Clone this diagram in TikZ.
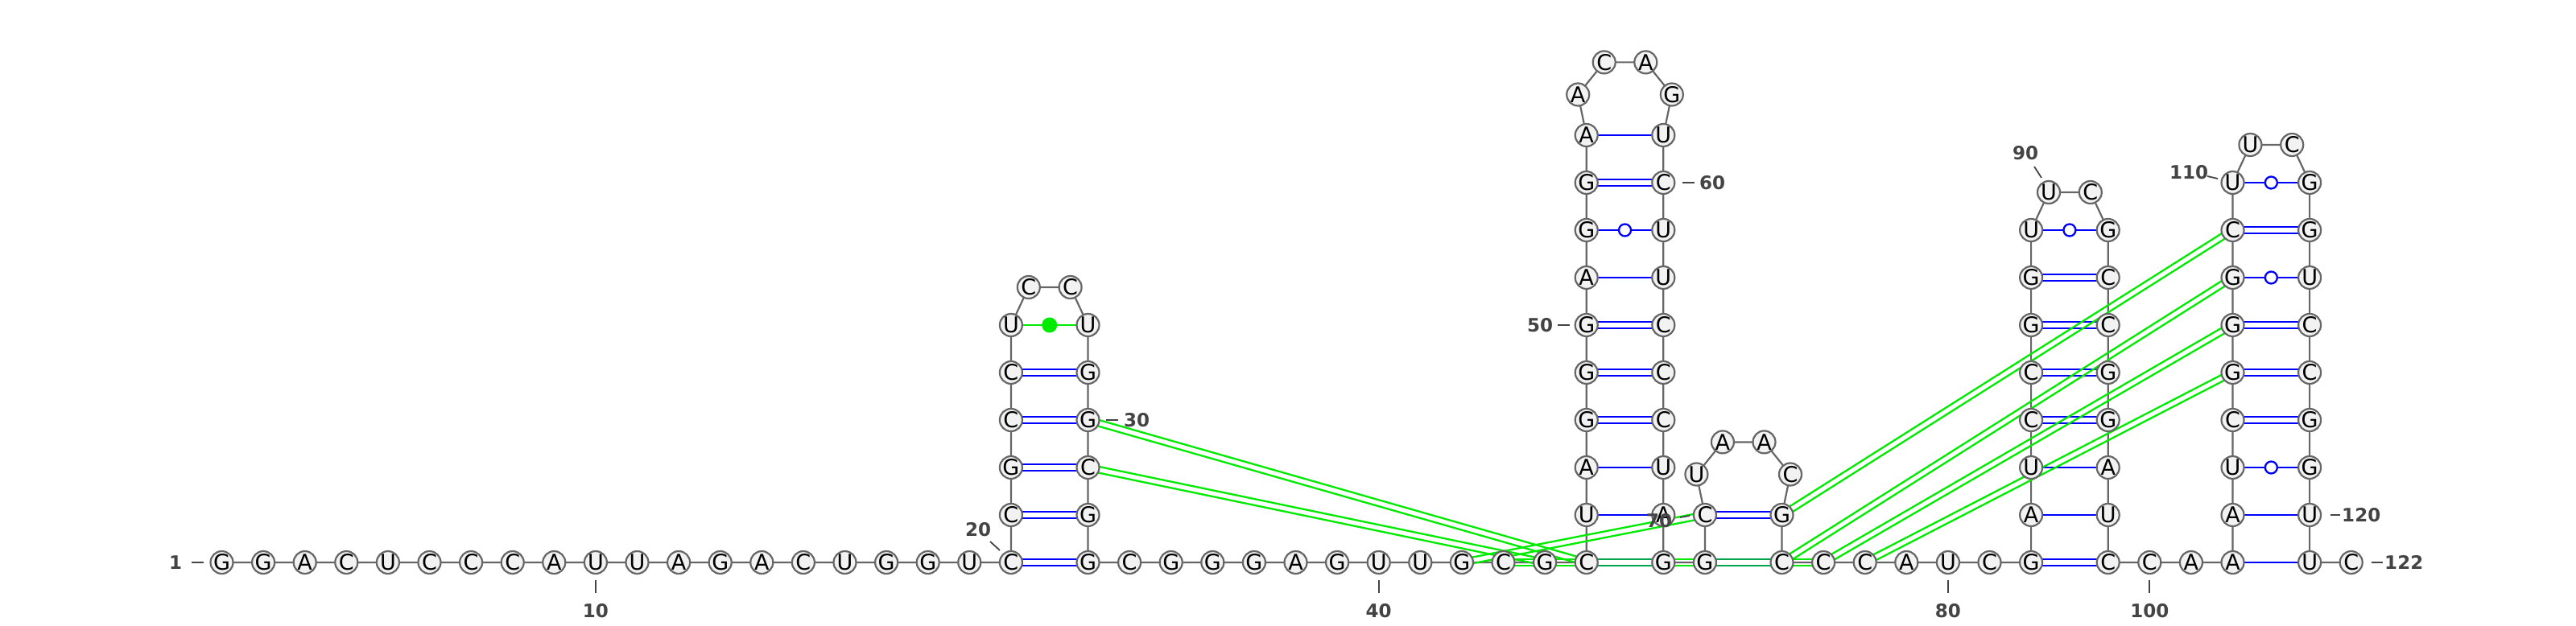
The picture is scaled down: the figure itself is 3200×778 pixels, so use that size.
\documentclass[tikz,border=0pt]{standalone}
\usepackage{fontspec}
\setmainfont{DejaVu Sans}
\usetikzlibrary{calc,backgrounds}
\definecolor{bbgray}{RGB}{102,102,102}
\definecolor{nfill}{RGB}{242,242,242}
\definecolor{labgray}{RGB}{68,68,68}
\definecolor{pkgreen}{RGB}{0,235,0}
\definecolor{bpblue}{RGB}{0,0,255}
\tikzset{
 nuc/.style={circle, draw=bbgray, fill=nfill, line width=2.2pt, minimum size=28pt, inner sep=0pt, font=\fontsize{27}{30}\selectfont},
 backbone/.style={draw=bbgray, line width=2.2pt},
 bp/.style={draw=bpblue, line width=2.3pt},
 bpfaint/.style={draw=bpblue, line width=2.3pt, draw opacity=0.3},
 pk/.style={draw=pkgreen, line width=2.3pt},
 lab/.style={text=labgray, font=\bfseries\fontsize{23}{26}\selectfont, inner sep=0pt},
 ticksty/.style={draw=labgray, line width=1.8pt},
}
\newcommand\ntd[4]{\node[nuc] (n#1) at (#2,#3) {\makebox[0pt]{\raisebox{-0.3645em}[0pt][0pt]{#4}}};}
\newcommand\twoline[3]{%
  \draw[#1] ($(n#2.center)!3.8pt!90:(n#3.center)$) -- ($(n#3.center)!3.8pt!-90:(n#2.center)$);
  \draw[#1] ($(n#2.center)!3.8pt!-90:(n#3.center)$) -- ($(n#3.center)!3.8pt!90:(n#2.center)$);}
\newcommand\oneline[2]{\draw[bp] (n#1.center) -- (n#2.center);}
\newcommand\wobline[2]{\draw[bp] (n#1.center) -- (n#2.center);
  \draw[bp, fill=white] ($(n#1.center)!0.5!(n#2.center)$) circle[radius=7.5pt];}
\begin{document}
\begin{tikzpicture}[x=1pt,y=-1pt]
\useasboundingbox (0,0) rectangle (3200,778);
% baseline 1-20
\ntd{1}{275.5}{699}{G}
\ntd{2}{327.1}{699}{G}
\ntd{3}{378.7}{699}{A}
\ntd{4}{430.3}{699}{C}
\ntd{5}{481.9}{699}{U}
\ntd{6}{533.5}{699}{C}
\ntd{7}{585.1}{699}{C}
\ntd{8}{636.7}{699}{C}
\ntd{9}{688.3}{699}{A}
\ntd{10}{739.9}{699}{U}
\ntd{11}{791.5}{699}{U}
\ntd{12}{843.1}{699}{A}
\ntd{13}{894.7}{699}{G}
\ntd{14}{946.3}{699}{A}
\ntd{15}{997.9}{699}{C}
\ntd{16}{1049.5}{699}{U}
\ntd{17}{1101.1}{699}{G}
\ntd{18}{1152.7}{699}{G}
\ntd{19}{1204.3}{699}{U}
\ntd{20}{1255.9}{699}{C}
% hairpin 1
\ntd{21}{1255.9}{640}{C}
\ntd{22}{1255.9}{581}{G}
\ntd{23}{1255.9}{522}{C}
\ntd{24}{1255.9}{463}{C}
\ntd{25}{1255.9}{404}{U}
\ntd{26}{1277.8}{357}{C}
\ntd{27}{1329.6}{357}{C}
\ntd{28}{1351.5}{404}{U}
\ntd{29}{1351.5}{463}{G}
\ntd{30}{1351.5}{522}{G}
\ntd{31}{1351.5}{581}{C}
\ntd{32}{1351.5}{640}{G}
\ntd{33}{1351.5}{699}{G}
% baseline 34-45
\ntd{34}{1403.1}{699}{C}
\ntd{35}{1454.7}{699}{G}
\ntd{36}{1506.3}{699}{G}
\ntd{37}{1557.9}{699}{G}
\ntd{38}{1609.5}{699}{A}
\ntd{39}{1661.1}{699}{G}
\ntd{40}{1712.7}{699}{U}
\ntd{41}{1764.3}{699}{U}
\ntd{42}{1815.9}{699}{G}
\ntd{43}{1867.5}{699}{C}
\ntd{44}{1919.1}{699}{G}
\ntd{45}{1970.7}{699}{C}
% hairpin 2
\ntd{46}{1970.7}{640}{U}
\ntd{47}{1970.7}{581}{A}
\ntd{48}{1970.7}{522}{G}
\ntd{49}{1970.7}{463}{G}
\ntd{50}{1970.7}{404}{G}
\ntd{51}{1970.7}{345}{A}
\ntd{52}{1970.7}{286}{G}
\ntd{53}{1970.7}{227}{G}
\ntd{54}{1970.7}{168}{A}
\ntd{55}{1960.2}{117.5}{A}
\ntd{56}{1992.7}{77.4}{C}
\ntd{57}{2044.3}{77.4}{A}
\ntd{58}{2076.8}{117.5}{G}
\ntd{59}{2066.3}{168}{U}
\ntd{60}{2066.3}{227}{C}
\ntd{61}{2066.3}{286}{U}
\ntd{62}{2066.3}{345}{U}
\ntd{63}{2066.3}{404}{C}
\ntd{64}{2066.3}{463}{C}
\ntd{65}{2066.3}{522}{C}
\ntd{66}{2066.3}{581}{U}
\ntd{67}{2066.3}{640}{A}
\ntd{68}{2066.3}{699}{G}
% small hairpin
\ntd{69}{2117.9}{699}{G}
\ntd{70}{2117.9}{640}{C}
\ntd{71}{2107.4}{589.5}{U}
\ntd{72}{2139.9}{549.4}{A}
\ntd{73}{2191.5}{549.4}{A}
\ntd{74}{2224.0}{589.5}{C}
\ntd{75}{2213.5}{640}{G}
\ntd{76}{2213.5}{699}{C}
% baseline 77-82
\ntd{77}{2265.1}{699}{C}
\ntd{78}{2316.7}{699}{C}
\ntd{79}{2368.3}{699}{A}
\ntd{80}{2419.9}{699}{U}
\ntd{81}{2471.5}{699}{C}
\ntd{82}{2523.1}{699}{G}
% hairpin 3
\ntd{83}{2523.1}{640}{A}
\ntd{84}{2523.1}{581}{U}
\ntd{85}{2523.1}{522}{C}
\ntd{86}{2523.1}{463}{C}
\ntd{87}{2523.1}{404}{G}
\ntd{88}{2523.1}{345}{G}
\ntd{89}{2523.1}{286}{U}
\ntd{90}{2545.0}{239}{U}
\ntd{91}{2596.8}{239}{C}
\ntd{92}{2618.7}{286}{G}
\ntd{93}{2618.7}{345}{C}
\ntd{94}{2618.7}{404}{C}
\ntd{95}{2618.7}{463}{G}
\ntd{96}{2618.7}{522}{G}
\ntd{97}{2618.7}{581}{A}
\ntd{98}{2618.7}{640}{U}
\ntd{99}{2618.7}{699}{C}
% baseline 100-102
\ntd{100}{2670.3}{699}{C}
\ntd{101}{2721.9}{699}{A}
\ntd{102}{2773.5}{699}{A}
% hairpin 4
\ntd{103}{2773.5}{640}{A}
\ntd{104}{2773.5}{581}{U}
\ntd{105}{2773.5}{522}{C}
\ntd{106}{2773.5}{463}{G}
\ntd{107}{2773.5}{404}{G}
\ntd{108}{2773.5}{345}{G}
\ntd{109}{2773.5}{286}{C}
\ntd{110}{2773.5}{227}{U}
\ntd{111}{2795.4}{180}{U}
\ntd{112}{2847.2}{180}{C}
\ntd{113}{2869.1}{227}{G}
\ntd{114}{2869.1}{286}{G}
\ntd{115}{2869.1}{345}{U}
\ntd{116}{2869.1}{404}{C}
\ntd{117}{2869.1}{463}{C}
\ntd{118}{2869.1}{522}{G}
\ntd{119}{2869.1}{581}{G}
\ntd{120}{2869.1}{640}{U}
\ntd{121}{2869.1}{699}{U}
\ntd{122}{2920.7}{699}{C}

\begin{pgfonlayer}{background}
\draw[backbone] (n1.center) \foreach \i in {2,...,122}{ -- (n\i.center)};
% canonical pairs
\twoline{bp}{20}{33}\twoline{bp}{21}{32}\twoline{bp}{22}{31}\twoline{bp}{23}{30}\twoline{bp}{24}{29}
\twoline{bp}{48}{65}\twoline{bp}{49}{64}\twoline{bp}{50}{63}\twoline{bp}{53}{60}
\twoline{bp}{70}{75}
\twoline{bp}{82}{99}\twoline{bp}{85}{96}\twoline{bp}{86}{95}\twoline{bp}{87}{94}\twoline{bp}{88}{93}
\twoline{bp}{105}{118}\twoline{bp}{106}{117}\twoline{bp}{107}{116}\twoline{bp}{109}{114}
\oneline{46}{67}\oneline{47}{66}\oneline{51}{62}\oneline{54}{59}
\oneline{83}{98}\oneline{84}{97}
\oneline{102}{121}\oneline{103}{120}
\wobline{52}{61}\wobline{89}{92}\wobline{104}{119}\wobline{108}{115}\wobline{110}{113}
% non-canonical / pseudoknot interactions
\draw[pk] (n25.center) -- (n28.center);
\fill[pkgreen] ($(n25.center)!0.5!(n28.center)$) circle[radius=9.5pt];
\twoline{pk}{30}{45}\twoline{pk}{31}{44}
\twoline{pk}{42}{70}
\twoline{pk}{43}{69}\twoline{pk}{44}{77}
\twoline{pk}{75}{109}\twoline{pk}{76}{108}\twoline{pk}{77}{107}\twoline{pk}{78}{106}
\twoline{bpfaint}{45}{68}\twoline{bpfaint}{69}{76}
\end{pgfonlayer}

% numbering
\node[lab] (L1) at (218,699) {1};
\draw[ticksty] (238,699) -- (253,699);
\node[lab] (L10) at (739.9,759) {10};
\draw[ticksty] (739.9,721) -- (739.9,737);
\node[lab] (L20) at (1215,658) {20};
\draw[ticksty] (1230,673) -- (1242,684);
\node[lab] (L30) at (1412,522) {30};
\draw[ticksty] (1374,522) -- (1389,522);
\node[lab] (L40) at (1712.7,759) {40};
\draw[ticksty] (1712.7,721) -- (1712.7,737);
\node[lab] (L50) at (1913,404) {50};
\draw[ticksty] (1935,404) -- (1950,404);
\node[lab] (L60) at (2127,227) {60};
\draw[ticksty] (2090,227) -- (2105,227);
\node[lab] (L70) at (2061,647) {70};
\draw[ticksty] (2087,643) -- (2099,641);
\node[lab] (L80) at (2419.9,759) {80};
\draw[ticksty] (2419.9,721) -- (2419.9,737);
\node[lab] (L90) at (2516,190) {90};
\draw[ticksty] (2527,207) -- (2536,221);
\node[lab] (L100) at (2670.3,759) {100};
\draw[ticksty] (2670.3,721) -- (2670.3,737);
\node[lab] (L110) at (2719,214) {110};
\draw[ticksty] (2742,219) -- (2755,222);
\draw[ticksty] (2895,640) -- (2907,640);
\node[lab, anchor=west] (L120) at (2909,640) {120};
\draw[ticksty] (2946,699) -- (2960,699);
\node[lab, anchor=west] (L122) at (2962,699) {122};
\end{tikzpicture}
\end{document}
